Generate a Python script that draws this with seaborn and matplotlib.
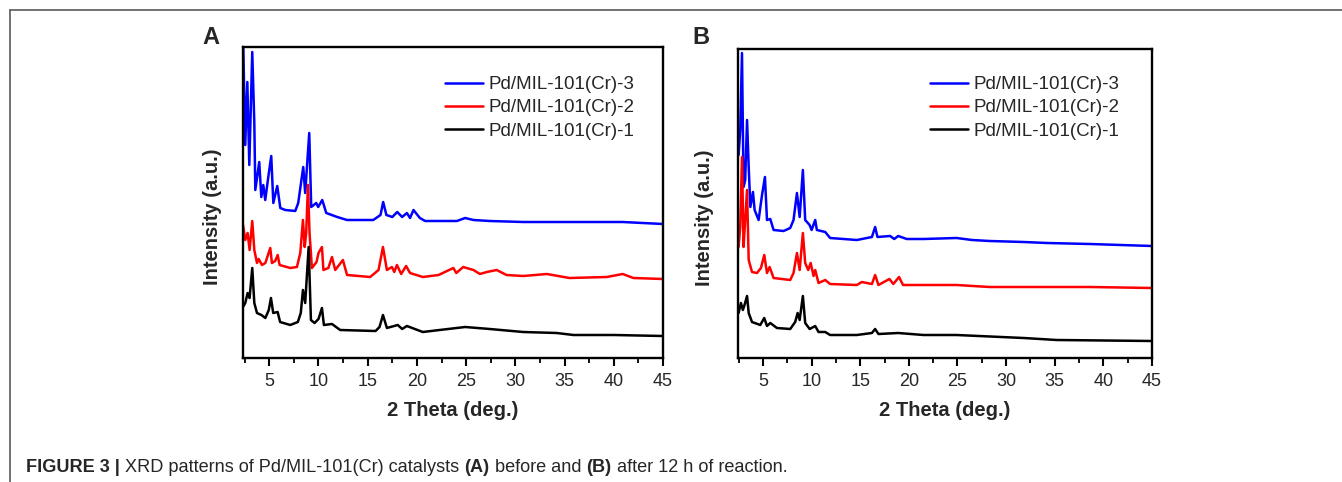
import matplotlib
matplotlib.use("Agg")
import matplotlib.pyplot as plt
from matplotlib.lines import Line2D
from matplotlib.ticker import MultipleLocator
import pandas as pd
import seaborn as sns

# ---------------- data (2theta in deg., intensity in a.u.) ----------------
labels = ["Pd/MIL-101(Cr)-3", "Pd/MIL-101(Cr)-2", "Pd/MIL-101(Cr)-1"]
colors = ["#0000FF", "#FF0000", "#000000"]

# (A) before reaction
a3_x = [2.36, 2.56, 2.77, 2.97, 3.27, 3.48, 3.58, 3.98, 4.19, 4.39,
        4.59, 4.90, 5.20, 5.41, 5.81, 6.12, 6.62, 7.64, 7.94, 8.45,
        8.65, 9.06, 9.26, 9.77, 9.97, 10.38, 10.79, 11.9, 12.9, 15.56,
        16.3, 16.57, 16.9, 17.5, 18.0, 18.5, 18.98, 19.3, 19.65, 20.3,
        20.84, 24.06, 24.9, 25.74, 27.4, 30.8, 34.2, 37.6, 40.9, 45.0]
a3_y = [310, 213, 276, 193, 306, 235, 168, 196, 161, 173,
        158, 181, 202, 155, 172, 150, 148, 147, 155, 191,
        165, 225, 151, 155, 151, 158, 145, 141, 138, 138,
        143, 156, 143, 141, 146, 141, 145, 140, 148, 140,
        137, 137, 140, 138, 137, 136, 136, 136, 136, 134]

a2_x = [2.33, 2.56, 2.8, 3.0, 3.27, 3.48, 3.75, 3.92, 4.26, 4.6,
        5.1, 5.27, 5.6, 5.85, 6.05, 7.13, 7.81, 8.15, 8.42, 8.6,
        8.75, 8.93, 9.09, 9.33, 9.8, 10.0, 10.35, 10.5, 11.0, 11.37,
        11.7, 12.48, 12.9, 15.25, 16.1, 16.55, 16.95, 17.46, 17.7, 17.97,
        18.4, 18.9, 19.3, 20.6, 22.2, 23.7, 24.0, 24.7, 25.74, 26.4,
        27.1, 28.1, 29.1, 30.8, 33.2, 35.5, 39.3, 40.9, 42.0, 45.0]
a2_y = [133, 118, 125, 108, 137, 108, 95, 99, 93, 95,
        110, 95, 97, 103, 93, 90, 91, 105, 138, 111,
        125, 173, 125, 90, 96, 105, 111, 88, 90, 101,
        88, 98, 83, 81, 88, 111, 88, 91, 86, 93,
        84, 92, 85, 81, 83, 90, 85, 91, 88, 84,
        86, 88, 83, 82, 84, 80, 81, 84, 80, 79]

a1_x = [2.33, 2.56, 2.8, 3.0, 3.27, 3.48, 3.75, 4.2, 4.6, 4.95,
        5.17, 5.4, 5.85, 6.1, 7.13, 7.9, 8.2, 8.42, 8.65, 9.0,
        9.23, 9.6, 10.0, 10.35, 10.55, 11.37, 12.2, 15.8, 16.2, 16.55,
        16.95, 18.05, 18.5, 18.98, 20.6, 22.3, 24.9, 27.4, 30.8, 34.2,
        35.9, 40.0, 45.0]
a1_y = [51, 55, 65, 60, 90, 55, 45, 43, 40, 48,
        60, 45, 46, 36, 33, 36, 45, 68, 55, 111,
        38, 35, 39, 50, 33, 34, 28, 27, 31, 43,
        30, 33, 29, 32, 26, 28, 31, 29, 26, 25,
        23, 23, 22]

# (B) after 12 h of reaction
b3_x = [2.49, 2.66, 2.84, 3.0, 3.17, 3.36, 3.53, 3.7, 3.97, 4.14,
        4.55, 4.9, 5.2, 5.41, 5.75, 6.09, 7.12, 7.8, 8.14, 8.49,
        8.77, 9.1, 9.34, 9.79, 10.0, 10.37, 10.54, 11.4, 11.9, 14.65,
        16.2, 16.53, 16.77, 18.07, 18.5, 18.9, 19.78, 21.5, 24.9, 26.5,
        28.3, 31.8, 34.2, 38.6, 45.0]
b3_y = [203, 228, 305, 171, 178, 238, 191, 151, 166, 148,
        138, 163, 181, 138, 139, 128, 127, 130, 138, 165,
        141, 188, 138, 133, 128, 138, 128, 126, 120, 118,
        121, 131, 121, 122, 119, 122, 119, 119, 120, 118,
        117, 116, 115, 114, 112]

b2_x = [2.49, 2.66, 2.84, 3.0, 3.17, 3.36, 3.53, 3.87, 4.38, 4.79,
        5.13, 5.41, 5.68, 6.09, 7.8, 8.14, 8.49, 8.77, 9.1, 9.34,
        9.65, 9.9, 10.2, 10.37, 10.71, 11.4, 11.9, 14.65, 15.16, 16.2,
        16.53, 16.87, 18.0, 18.4, 18.99, 19.4, 21.5, 24.9, 28.3, 38.6,
        45.0]
b2_y = [111, 131, 201, 111, 138, 168, 98, 86, 85, 90,
        103, 85, 91, 80, 78, 85, 105, 88, 125, 95,
        88, 95, 82, 88, 75, 78, 74, 73, 76, 74,
        83, 73, 79, 74, 81, 73, 73, 73, 71, 71,
        70]

b1_x = [2.49, 2.73, 2.93, 3.1, 3.36, 3.53, 3.87, 4.72, 5.13, 5.41,
        5.75, 6.43, 7.8, 8.31, 8.56, 8.77, 9.1, 9.34, 9.8, 10.37,
        10.71, 11.4, 11.9, 14.65, 16.2, 16.53, 16.87, 18.9, 21.5, 24.9,
        31.8, 35.2, 45.0]
b1_y = [45, 55, 48, 53, 62, 45, 36, 33, 40, 32,
        35, 30, 29, 36, 45, 38, 62, 35, 29, 32,
        26, 26, 23, 23, 25, 29, 24, 25, 23, 23,
        20, 18, 17]

x_ticks = [5, 10, 15, 20, 25, 30, 35, 40, 45]

# ---------------- style ----------------
sns.set_style("ticks")
plt.rcParams["font.family"] = ["Liberation Sans", "DejaVu Sans"]

W, H = 1342, 482
fig = plt.figure(figsize=(W / 100, H / 100), dpi=100)


def px_box(l, t, r, b):
    return [l / W, 1 - b / H, (r - l) / W, (b - t) / H]


panels = [
    dict(box=px_box(243, 47, 663, 358), xlim=(2.33, 45), ylim=(0, 311),
         series=[(a3_x, a3_y), (a2_x, a2_y), (a1_x, a1_y)],
         leg=(445, 76), ylab=(-0.0735, 0.453), letter="A", letter_xy=(211, 37)),
    dict(box=px_box(738, 49, 1152, 358), xlim=(2.43, 45), ylim=(0, 309),
         series=[(b3_x, b3_y), (b2_x, b2_y), (b1_x, b1_y)],
         leg=(930, 76), ylab=(-0.081, 0.453), letter="B", letter_xy=(701, 37)),
]

for p in panels:
    ax = fig.add_axes(p["box"])
    for (xs, ys), lab, col in zip(p["series"], labels, colors):
        df = pd.DataFrame({"two_theta": xs, "intensity": ys})
        sns.lineplot(data=df, x="two_theta", y="intensity", color=col, lw=1.8,
                     label=lab, ax=ax, estimator=None, errorbar=None, sort=False)
    ax.set_xlim(*p["xlim"])
    ax.set_ylim(*p["ylim"])
    ax.set_xticks(x_ticks)
    ax.xaxis.set_minor_locator(MultipleLocator(2.5))
    ax.set_yticks([])
    ax.tick_params(axis="x", which="major", direction="out", length=6, width=1.5,
                   labelsize=13, pad=4.5, color="black")
    ax.tick_params(axis="x", which="minor", direction="out", length=3.5, width=1.3,
                   color="black")
    for sp in ax.spines.values():
        sp.set_linewidth(1.7)
        sp.set_color("black")

    ax.set_xlabel("2 Theta (deg.)", fontsize=14.5, fontweight="bold")
    ax.xaxis.set_label_coords(0.5, (358 - 411) / 311)
    ax.xaxis.label.set_va("center")
    ax.set_ylabel("Intensity (a.u.)", fontsize=14.5, fontweight="bold")
    ax.yaxis.set_label_coords(*p["ylab"])
    ax.yaxis.label.set_va("center")

    lx, ly = p["leg"]
    ax.legend(loc="upper left", bbox_to_anchor=(lx / W, 1 - ly / H),
              bbox_transform=fig.transFigure, frameon=False, fontsize=13.5,
              handlelength=2.0, handletextpad=0.3, labelspacing=0.33,
              borderpad=0, borderaxespad=0)

    fx, fy = p["letter_xy"]
    fig.text(fx / W, 1 - fy / H, p["letter"], fontsize=17, fontweight="bold",
             ha="center", va="center")

# frame lines of the figure box
fig.add_artist(Line2D([10 / W, 1], [1 - 10 / H, 1 - 10 / H], color="#666666", lw=1.3))
fig.add_artist(Line2D([10 / W, 10 / W], [0, 1 - 10 / H], color="#666666", lw=1.3))

# caption with mixed weights
pieces = [("FIGURE 3 |", "bold"), ("XRD patterns of Pd/MIL-101(Cr) catalysts", "normal"),
          ("(A)", "bold"), ("before and", "normal"), ("(B)", "bold"),
          ("after 12 h of reaction.", "normal")]
renderer = fig.canvas.get_renderer()
cx = 26
gap = 5.2
for s, w in pieces:
    t = fig.text(cx / W, 1 - 468 / H, s, fontsize=13.1, fontweight=w,
                 ha="left", va="center")
    cx = t.get_window_extent(renderer).x1 + gap

fig.savefig("out.png", dpi=100)
